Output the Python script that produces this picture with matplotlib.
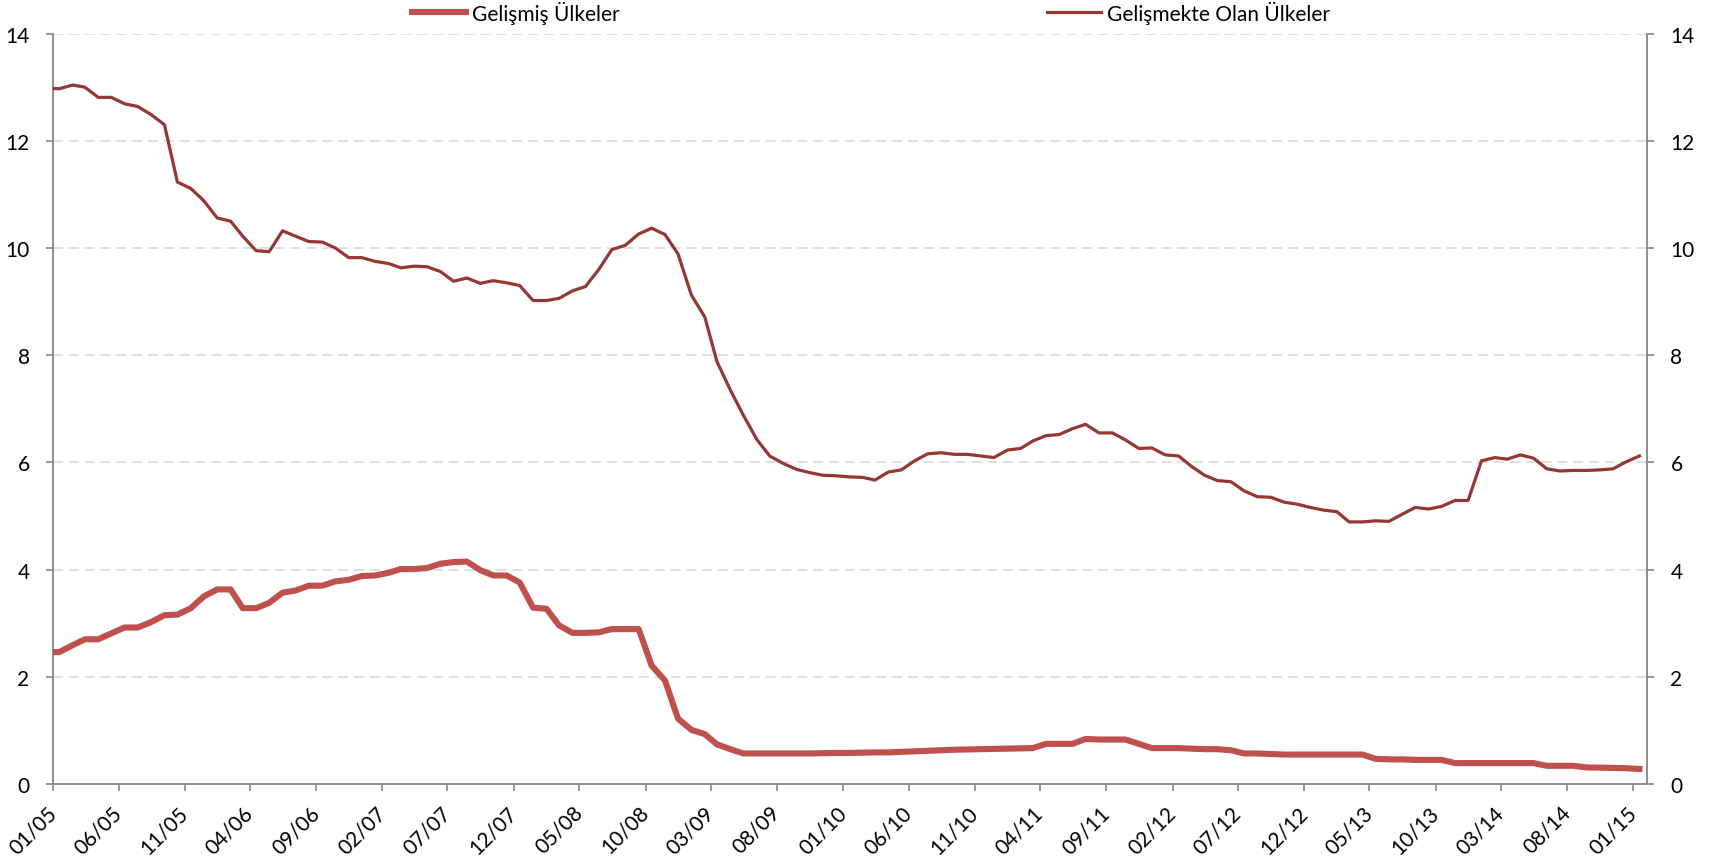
import numpy as np
import pandas as pd
import matplotlib
matplotlib.use("Agg")
import matplotlib.pyplot as plt

plt.rcParams['font.family'] = ['Lato', 'DejaVu Sans']

# monthly values, Dec 2004 .. Jan 2015 (plotted mid-month)
months = pd.date_range('2004-12-01', periods=122, freq='MS') + pd.Timedelta(days=14)

gelismis = [
    2.46, 2.46, 2.59, 2.70, 2.70, 2.81, 2.92, 2.92, 3.02, 3.15, 3.16, 3.28, 3.50,
    3.63, 3.63, 3.28, 3.28, 3.38, 3.57, 3.61, 3.70, 3.70, 3.78, 3.81, 3.88, 3.89,
    3.94, 4.01, 4.01, 4.03, 4.11, 4.14, 4.15, 3.99, 3.89, 3.89, 3.76, 3.29, 3.27,
    2.96, 2.82, 2.82, 2.83, 2.89, 2.89, 2.89, 2.21, 1.93, 1.22, 1.01, 0.93, 0.74,
    0.65, 0.57, 0.57, 0.57, 0.57, 0.57, 0.57, 0.575, 0.58, 0.58, 0.585, 0.59, 0.59,
    0.60, 0.61, 0.62, 0.63, 0.64, 0.645, 0.65, 0.655, 0.66, 0.665, 0.67, 0.75, 0.75,
    0.75, 0.84, 0.83, 0.83, 0.83, 0.75, 0.67, 0.67, 0.67, 0.66, 0.65, 0.65, 0.63,
    0.57, 0.57, 0.56, 0.55, 0.55, 0.55, 0.55, 0.55, 0.55, 0.55, 0.47, 0.46, 0.46,
    0.45, 0.45, 0.45, 0.39, 0.39, 0.39, 0.39, 0.39, 0.39, 0.39, 0.34, 0.34, 0.34,
    0.31, 0.305, 0.30, 0.295, 0.28,
]

gelismekte = [
    12.98, 12.97, 13.04, 13.00, 12.81, 12.81, 12.69, 12.64, 12.49, 12.30, 11.23,
    11.11, 10.88, 10.56, 10.50, 10.22, 9.95, 9.93, 10.32, 10.22, 10.12, 10.11,
    10.00, 9.82, 9.82, 9.75, 9.71, 9.63, 9.66, 9.65, 9.56, 9.38, 9.44, 9.34, 9.39,
    9.35, 9.30, 9.02, 9.02, 9.06, 9.20, 9.28, 9.60, 9.97, 10.05, 10.26, 10.37,
    10.25, 9.89, 9.12, 8.71, 7.88, 7.35, 6.88, 6.43, 6.12, 5.98, 5.87, 5.81, 5.76,
    5.75, 5.73, 5.72, 5.67, 5.82, 5.86, 6.03, 6.16, 6.18, 6.15, 6.15, 6.12, 6.09,
    6.23, 6.26, 6.40, 6.50, 6.52, 6.63, 6.71, 6.55, 6.55, 6.42, 6.26, 6.27, 6.14,
    6.12, 5.93, 5.76, 5.66, 5.64, 5.47, 5.36, 5.35, 5.26, 5.22, 5.16, 5.11, 5.08,
    4.89, 4.89, 4.91, 4.90, 5.03, 5.16, 5.13, 5.18, 5.29, 5.29, 6.03, 6.09, 6.06,
    6.14, 6.08, 5.88, 5.84, 5.85, 5.85, 5.86, 5.88, 6.01, 6.12,
]

tick_dates = pd.date_range('2005-01-01', '2015-01-01', freq='5MS')
tick_labels = [d.strftime('%m/%y') for d in tick_dates]
y_ticks = [0, 2, 4, 6, 8, 10, 12, 14]

fig = plt.figure(figsize=(17.28, 8.62), dpi=100)
ax = fig.add_axes([0.0308, 0.0893, 0.9222, 0.8706])

ax.plot(months, gelismis, color='#C0504D', lw=4.4, label='Gelişmiş Ülkeler',
        solid_joinstyle='round', zorder=3)
ax.plot(months, gelismekte, color='#953735', lw=2.3, label='Gelişmekte Olan Ülkeler',
        solid_joinstyle='round', zorder=3)

ax.set_xlim(pd.Timestamp('2005-01-01'), pd.Timestamp('2015-02-01'))
ax.set_ylim(0, 14)
ax.set_yticks(y_ticks)
ax.set_xticks(tick_dates)
ax.set_xticklabels(tick_labels, rotation=45, ha='right', va='center',
                   rotation_mode='anchor', fontsize=15)

for y in y_ticks[1:]:
    ax.axhline(y, color='#D9D9D9', lw=1.2, dashes=(6, 3.5), zorder=1)

for s in ['left', 'right', 'bottom']:
    ax.spines[s].set_color('#868686')
    ax.spines[s].set_linewidth(1.3)
ax.spines['top'].set_visible(False)

ax.tick_params(axis='y', which='both', left=True, right=True, labelleft=True,
               labelright=True, direction='out', length=5, width=1.2,
               color='#868686', pad=12, labelsize=15)
ax.tick_params(axis='x', direction='out', length=5, width=1.2, color='#868686',
               pad=13)

fig.legend(loc='center', bbox_to_anchor=(0.504, 0.985), ncol=2, frameon=False,
           fontsize=15, handlelength=2.6, handletextpad=0.3, columnspacing=20.5)

fig.savefig('out.png', dpi=100)
